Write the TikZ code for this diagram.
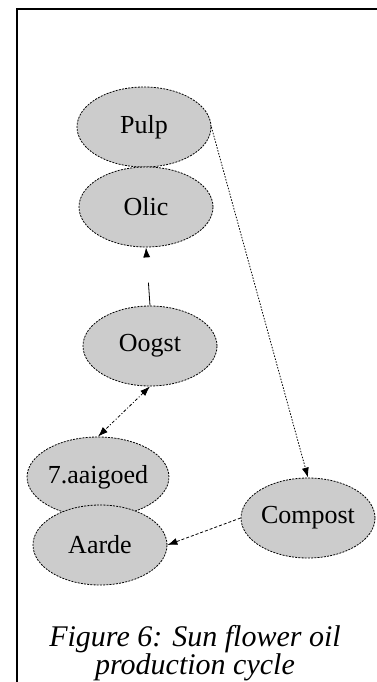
\documentclass[tikz,border=0pt]{standalone}
\usepackage{fontspec}
\setmainfont{Liberation Serif}
\usetikzlibrary{shapes.geometric,arrows.meta}

\tikzset{
	stage/.style = {ellipse, draw, fill=black!20, dash pattern=on 2pt off 1.2pt, line width=0.8pt,
		minimum width=134pt, minimum height=80pt, inner sep=0pt, font=\fontsize{26}{28}\selectfont},
	flow/.style = {line width=0.8pt, -{Latex[length=10pt,width=7pt]}},
}

\begin{document}
\begin{tikzpicture}[x=1pt, y=-1pt]
	\useasboundingbox (0,0) rectangle (377,682);
	\draw[line width=1.5pt] (17,682) -- (17,9) -- (377,9);
	% the cycle
	\node[stage] (Pulp) at (144,127) {Pulp};
	\node[stage] (Olie) at (146,207) {Olic};
	\node[stage] (Oogst) at (150,346) {Oogst};
	\node[stage] (Zaaigoed) at (98,477) {7.aaigoed};
	\node[stage] (Aarde) at (100,545) {Aarde};
	\node[stage] (Compost) at (308,518) {Compost};
	\draw[flow, dash pattern=on 23pt off 40pt] (Oogst.north) -- (Olie.south);
	\draw[flow, dash pattern=on 1.5pt off 1.5pt] (Pulp.east) -- (Compost.north);
	\draw[flow, {Latex[length=10pt,width=7pt]}-{Latex[length=10pt,width=7pt]}, dash pattern=on 3pt off 2pt on 1pt off 2pt] (Oogst.south) -- (Zaaigoed.north);
	\draw[flow, densely dashed] (Compost.west) -- (Aarde.east);
	\node[font=\itshape\fontsize{30}{27}\selectfont, align=center, inner sep=0pt, anchor=north] (caption) at (195,625) {Figure 6: Sun flower oil\\production cycle};
\end{tikzpicture}
\end{document}
